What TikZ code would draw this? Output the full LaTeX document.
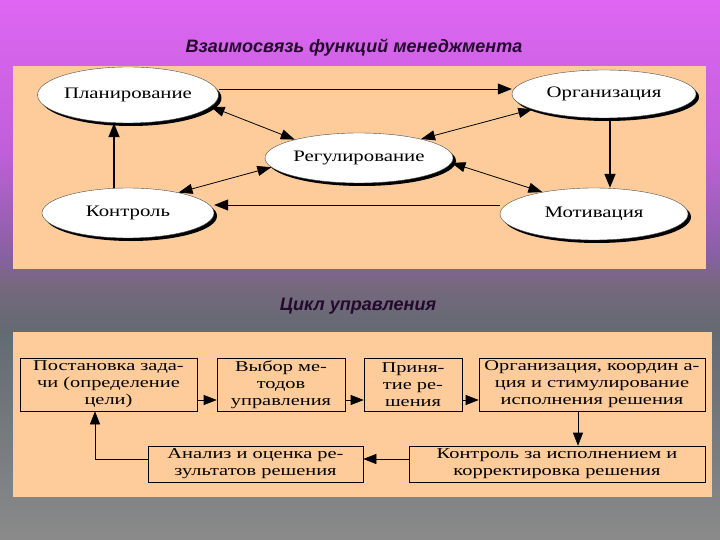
\documentclass[tikz,border=0pt]{standalone}
\usepackage{fontspec}
\setmainfont{Liberation Serif}
\newfontfamily\widefont[FakeStretch=1.3]{Liberation Serif}
\newfontfamily\boxfont[FakeStretch=1.36]{Liberation Serif}
\newfontfamily\titlefont{Liberation Sans}
\usetikzlibrary{arrows.meta,shapes.geometric,shadows,calc}
\definecolor{bgA}{RGB}{138,138,138}
\definecolor{bgB}{RGB}{100,106,114}
\definecolor{bgC}{RGB}{118,104,126}
\definecolor{bgD}{RGB}{135,97,162}
\definecolor{bgF}{RGB}{192,95,218}
\definecolor{bgE}{RGB}{222,102,242}
\definecolor{peach}{RGB}{253,204,154}
\definecolor{titlecol}{RGB}{35,10,45}
\pgfdeclareverticalshading{bgshade}{100bp}{color(0bp)=(bgA); color(25bp)=(bgA); color(44.4bp)=(bgB); color(48.6bp)=(bgC); color(51.4bp)=(bgD); color(61bp)=(bgF); color(75bp)=(bgE); color(100bp)=(bgE)}
\tikzset{
  ell/.style={ellipse, draw=black!70, line width=0.4pt, fill=white, inner sep=0pt,
    font=\widefont\fontsize{16}{18}\selectfont,
    general shadow={fill=black, shadow xshift=3pt, shadow yshift=-3pt}},
  arr/.style={-{Triangle[length=14pt,width=11pt]}, line width=0.8pt},
  tarr/.style={-{Triangle[length=14pt,width=11pt]}, line width=1.8pt},
  darr/.style={{Triangle[length=14pt,width=10pt]}-{Triangle[length=14pt,width=10pt]}, line width=0.8pt},
  boxn/.style={draw=black, line width=0.6pt, align=center, inner sep=0pt,
    font=\boxfont\fontsize{15}{17}\selectfont},
  barr/.style={-{Triangle[length=13pt,width=10pt]}, line width=0.6pt},
  ttl/.style={font=\titlefont\bfseries\itshape\fontsize{18}{20}\selectfont, text=titlecol}
}
\begin{document}
\begin{tikzpicture}[x=1pt,y=-1pt]
\useasboundingbox (0,0) rectangle (720,540);
\shade[shading=bgshade] (0,0) rectangle (720,540);
% panels
\fill[peach] (13,66) rectangle (706,269);
\fill[peach] (13,332) rectangle (712,497);
% titles
\node[ttl] (t1) at (354,48) {Взаимосвязь функций менеджмента};
\node[ttl] (t2) at (358,306) {Цикл управления};
% ellipses
\node[ell, minimum width=172pt, minimum height=56pt] (plan) at (128,95) {Планирование};
\node[ell, minimum width=184pt, minimum height=48pt] (org) at (604,94) {Организация};
\node[ell, minimum width=188pt, minimum height=50pt] (reg) at (359,158) {Регулирование};
\node[ell, minimum width=172pt, minimum height=50pt] (kon) at (128,213) {Контроль};
\node[ell, minimum width=188pt, minimum height=52pt] (mot) at (594,214) {Мотивация};
% connectors top
\draw[arr] ([yshift=6pt]plan.east) -- ([yshift=6pt]plan.east -| org.west);
\draw[tarr] ([xshift=6pt]org.south) -- ([xshift=6pt]org.south |- mot.north);
\draw[arr] ([yshift=9pt]mot.west) -- ([yshift=9pt]mot.west -| kon.east);
\draw[tarr] ([xshift=-14pt]kon.north) -- ([xshift=-14pt]kon.north |- plan.south);
\draw[darr] (plan.-8) -- (reg.164);
\draw[darr] (kon.22) -- (reg.186);
\draw[darr] (org.192) -- (reg.17);
\draw[darr] (reg.-3) -- (mot.157);
% bottom boxes
\node[boxn, minimum width=177pt, minimum height=53pt] (b1) at (108.5,384.5) {Постановка зада-\\чи (определение\\цели)};
\node[boxn, minimum width=128pt, minimum height=53pt] (b2) at (281,384.5) {Выбор ме-\\тодов\\управления};
\node[boxn, minimum width=98pt, minimum height=53pt] (b3) at (413,384.5) {Приня-\\тие ре-\\шения};
\node[boxn, minimum width=226pt, minimum height=53pt] (b4) at (592,384.5) {Организация, координ а-\\ция и стимулирование\\исполнения решения};
\node[boxn, minimum width=296pt, minimum height=36pt] (b5) at (557,464) {Контроль за исполнением и\\корректировка решения};
\node[boxn, minimum width=215pt, minimum height=36pt] (b6) at (255.5,464) {Анализ и оценка ре-\\зультатов решения};
% connectors bottom
\draw[barr] ([yshift=-15.5pt]b1.east) -- ([yshift=-15.5pt]b1.east -| b2.west);
\draw[barr] ([yshift=-15.5pt]b2.east) -- ([yshift=-15.5pt]b2.east -| b3.west);
\draw[barr] ([yshift=-15.5pt]b3.east) -- ([yshift=-15.5pt]b3.east -| b4.west);
\draw[barr] ([xshift=-14pt]b4.south) -- ([xshift=-14pt]b4.south |- b5.north);
\draw[barr] ([yshift=5pt]b5.west) -- ([yshift=5pt]b5.west -| b6.east);
\draw[barr] ([yshift=5pt]b6.west) -| ([xshift=-13.5pt]b1.south);
\end{tikzpicture}
\end{document}
